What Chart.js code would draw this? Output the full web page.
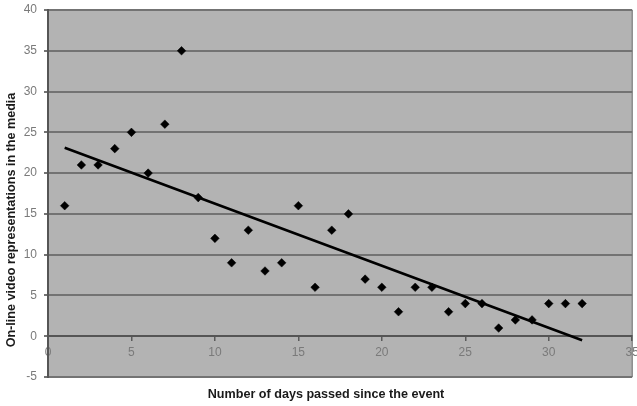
<!DOCTYPE html>
<html>
<head>
<meta charset="utf-8">
<script src="https://cdn.jsdelivr.net/npm/chart.js@4/dist/chart.umd.min.js"></script>
<style>
  html, body { margin: 0; padding: 0; background: #ffffff; }
  #wrap { width: 637px; height: 406px; position: relative; }
</style>
</head>
<body>
<div id="wrap"><canvas id="c" width="637" height="406"></canvas></div>
<script>
// Days since the event and number of on-line video representations per day
const days = [1, 2, 3, 4, 5, 6, 7, 8, 9, 10, 11, 12, 13, 14, 15, 16,
              17, 18, 19, 20, 21, 22, 23, 24, 25, 26, 27, 28, 29, 30, 31, 32];
const videoCounts = [16, 21, 21, 23, 25, 20, 26, 35, 17, 12, 9, 13, 8, 9, 16, 6,
                     13, 15, 7, 6, 3, 6, 6, 3, 4, 4, 1, 2, 2, 4, 4, 4];

// Linear trend line end points
const trendX = [1, 32];
const trendY = [23.1, -0.5];

// Axis ranges and tick step
const xRange = [0, 35];
const yRange = [-5, 40];
const tickStep = 5;

const xTitle = 'Number of days passed since the event';
const yTitle = 'On-line video representations in the media';

const points = days.map((d, i) => ({ x: d, y: videoCounts[i] }));
const trend = trendX.map((d, i) => ({ x: d, y: trendY[i] }));

// Grey plot area with a light right-hand border
const plotBackground = {
  id: 'plotBackground',
  beforeDraw(chart) {
    const { ctx, chartArea: a } = chart;
    ctx.save();
    ctx.fillStyle = '#b3b3b3';
    ctx.fillRect(a.left, a.top, a.right - a.left, a.bottom - a.top);
    ctx.strokeStyle = '#8c8c8c';
    ctx.lineWidth = 1.5;
    ctx.beginPath();
    ctx.moveTo(a.right, a.top);
    ctx.lineTo(a.right, a.bottom);
    ctx.stroke();
    ctx.restore();
  }
};

// Axis titles
const axisTitles = {
  id: 'axisTitles',
  afterDraw(chart) {
    const { ctx } = chart;
    ctx.save();
    ctx.fillStyle = '#1a1a1a';
    ctx.font = 'bold 12.6px "Liberation Sans", Arial, sans-serif';
    ctx.textAlign = 'center';
    ctx.textBaseline = 'middle';
    ctx.fillText(xTitle, 326, 395);
    ctx.translate(12, 220);
    ctx.rotate(-Math.PI / 2);
    ctx.fillText(yTitle, 0, 0);
    ctx.restore();
  }
};

const tickFont = { family: '"Liberation Sans", Arial, sans-serif', size: 12 };

new Chart(document.getElementById('c'), {
  type: 'scatter',
  data: {
    datasets: [
      {
        label: 'Videos',
        data: points,
        pointStyle: 'rectRot',
        pointRadius: 4.3,
        pointHoverRadius: 4.3,
        backgroundColor: '#000000',
        borderColor: '#000000',
        borderWidth: 0.5,
        order: 1
      },
      {
        label: 'Trend',
        type: 'line',
        data: trend,
        borderColor: '#000000',
        borderWidth: 2.6,
        pointRadius: 0,
        fill: false,
        order: 2
      }
    ]
  },
  options: {
    responsive: false,
    animation: false,
    layout: { padding: { top: 10, right: 2, bottom: 29, left: 0 } },
    plugins: {
      legend: { display: false },
      tooltip: { enabled: false }
    },
    scales: {
      x: {
        type: 'linear',
        position: { y: 0 },
        min: xRange[0],
        max: xRange[1],
        ticks: {
          stepSize: tickStep,
          color: '#7a7a7a',
          font: tickFont,
          padding: 5,
          autoSkip: false,
          maxRotation: 0
        },
        grid: {
          drawOnChartArea: false,
          drawTicks: true,
          tickLength: 4,
          color: '#5a5a5a',
          lineWidth: 1.5
        },
        border: { display: true, color: '#555555', width: 2 },
        afterFit(scale) {
          scale.paddingLeft = 0;
          scale.paddingRight = 0;
        }
      },
      y: {
        type: 'linear',
        min: yRange[0],
        max: yRange[1],
        ticks: {
          stepSize: tickStep,
          color: '#7a7a7a',
          font: tickFont,
          padding: 7
        },
        grid: {
          color: '#737373',
          lineWidth: 2,
          tickLength: 4,
          drawTicks: true
        },
        border: { display: true, color: '#555555', width: 2 },
        afterFit(scale) {
          scale.width = 48;
          scale.paddingTop = 0;
          scale.paddingBottom = 0;
        }
      }
    }
  },
  plugins: [plotBackground, axisTitles]
});
</script>
</body>
</html>
